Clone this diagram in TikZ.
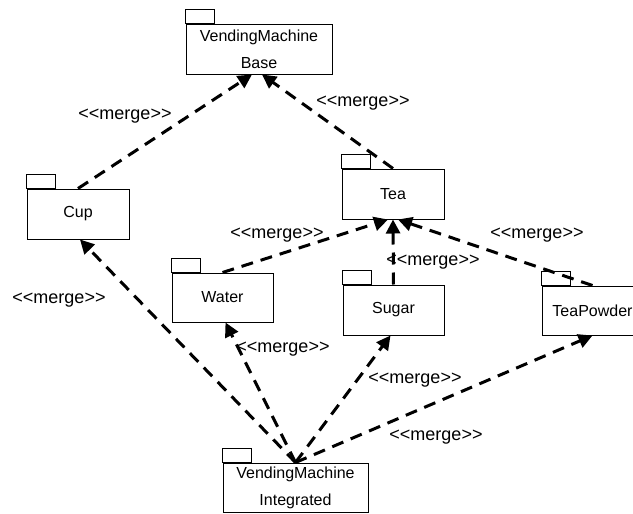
\documentclass[tikz,border=0pt]{standalone}
\usepackage{fontspec}
\setmainfont{Liberation Sans}[Ligatures=TeXOff]
\usetikzlibrary{arrows.meta,calc}
\begin{document}
\begin{tikzpicture}[x=1pt,y=-1pt,
  pkg/.style={draw,line width=1pt,rectangle,inner sep=0pt,align=center,font=\fontsize{16}{27}\selectfont},
  tab/.style={draw,line width=1pt},
  merge/.style={dash pattern=on 12pt off 8pt,line width=3pt,-{Triangle[length=14pt,width=14pt]}},
  lbl/.style={inner sep=0pt,font=\fontsize{18}{20}\selectfont}]
\useasboundingbox (0,0) rectangle (633,514);
% packages
\node[pkg,minimum width=146pt,minimum height=50pt] (base) at (259,49) {VendingMachine\\Base};
\node[pkg,minimum width=102pt,minimum height=50pt] (cup) at (78,214) {Cup};
\node[pkg,minimum width=102pt,minimum height=50pt] (tea) at (393,194) {Tea};
\node[pkg,minimum width=101pt,minimum height=49pt] (water) at (222.5,297.5) {Water};
\node[pkg,minimum width=101pt,minimum height=50pt] (sugar) at (393.5,310) {Sugar};
\node[pkg,minimum width=101pt,minimum height=49pt] (teapowder) at (592.5,310.5) {TeaPowder};
\node[pkg,minimum width=145pt,minimum height=49pt] (integ) at (295.5,487.5) {VendingMachine\\Integrated};
\foreach \n in {base,cup,tea,water,sugar,teapowder,integ}
  \draw[tab] (\n.north west) rectangle ++(29,-14);
% connectors
\draw[merge] (cup.north) -- ([xshift=-7pt]base.south);
\draw[merge] (tea.north) -- ([xshift=3pt]base.south);
\draw[merge] (water.north) -- ([xshift=-5pt]tea.south);
\draw[merge] (sugar.north) -- (tea.south);
\draw[merge] (teapowder.north) -- ([xshift=5pt]tea.south);
\draw[merge] (integ.north) -- ([xshift=2pt]cup.south);
\draw[merge] (integ.north) -- ([xshift=3pt]water.south);
\draw[merge] (integ.north) -- ([xshift=-3pt]sugar.south);
\draw[merge] (integ.north) -- (teapowder.south);
% labels
\node[lbl] (l1) at (125,116) {<<merge>>};
\node[lbl] (l2) at (363,103) {<<merge>>};
\node[lbl] (l3) at (277,235) {<<merge>>};
\node[lbl] (l4) at (433,262) {<<merge>>};
\node[lbl] (l5) at (537,235) {<<merge>>};
\node[lbl] (l6) at (59,300) {<<merge>>};
\node[lbl] (l7) at (283,349) {<<merge>>};
\node[lbl] (l8) at (415,380) {<<merge>>};
\node[lbl] (l9) at (436,437) {<<merge>>};
\end{tikzpicture}
\end{document}
